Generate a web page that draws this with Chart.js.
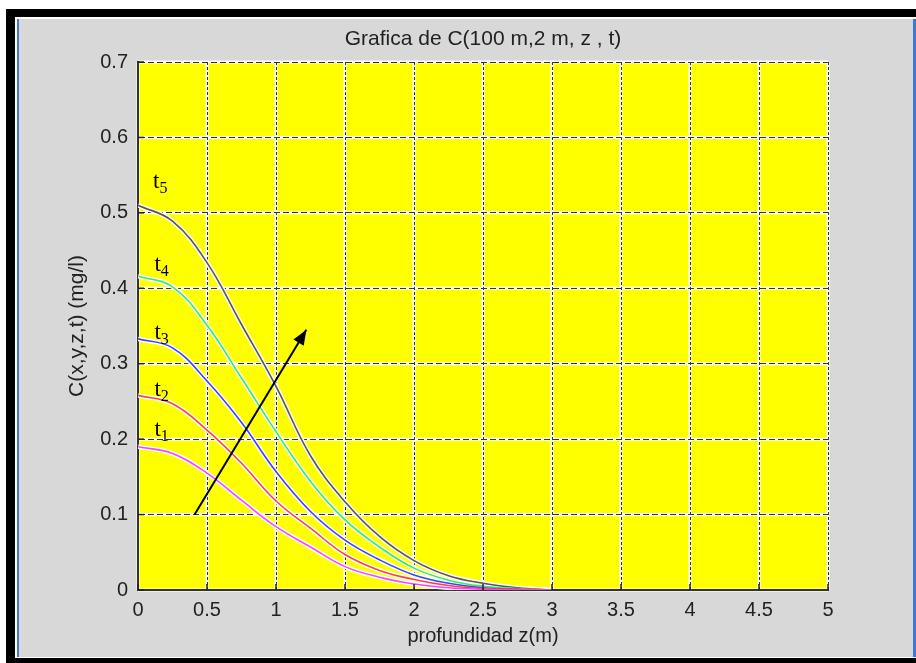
<!DOCTYPE html>
<html>
<head>
<meta charset="utf-8">
<script src="https://cdn.jsdelivr.net/npm/chart.js@4"></script>
<style>
  body { margin: 0; background: #fff; }
  #frame { position: absolute; left: 6px; top: 9px; width: 910px; height: 654px; background: #000; }
  #edge { position: absolute; left: 15px; top: 17px; width: 901px; height: 641px; background: #fff; }
  #panel { position: absolute; left: 17px; top: 19px; width: 894px; height: 638px; background: #d8d8d8;
           border-left: 2px solid #3c78d8; border-right: 4px solid #3c78d8; }
  #chart { position: absolute; left: 0; top: 0; }
</style>
</head>
<body>
<div id="frame"></div>
<div id="edge"></div>
<div id="panel"></div>
<canvas id="chart" width="916" height="663"></canvas>
<script>
// depth z (m)
const zVals = [0, 0.25, 0.5, 0.75, 1, 1.25, 1.5, 1.75, 2, 2.25, 2.5, 2.75, 3];
// C(100 m, 2 m, z, t) in mg/l for five times
const cT1 = [0.190, 0.181, 0.155, 0.119, 0.084, 0.057, 0.031, 0.017, 0.008, 0.003, 0.001, 0, 0];
const cT2 = [0.258, 0.247, 0.212, 0.168, 0.118, 0.082, 0.047, 0.026, 0.014, 0.006, 0.002, 0.001, 0];
const cT3 = [0.333, 0.321, 0.277, 0.222, 0.157, 0.104, 0.066, 0.040, 0.020, 0.009, 0.003, 0.001, 0];
const cT4 = [0.416, 0.402, 0.351, 0.281, 0.210, 0.144, 0.093, 0.057, 0.029, 0.013, 0.005, 0.002, 0];
const cT5 = [0.510, 0.489, 0.434, 0.352, 0.270, 0.178, 0.117, 0.071, 0.039, 0.019, 0.009, 0.003, 0];

const seriesNames = ["1", "2", "3", "4", "5"];
const seriesColors = ["#ff40ff", "#ff4040", "#4040ff", "#33ee55", "#555555"];
// label anchors (z, C)
const labelZ = [0.17, 0.17, 0.17, 0.17, 0.16];
const labelC = [0.212, 0.265, 0.341, 0.431, 0.541];

// arrow from (z, C) to (z, C)
const arrowZ = [0.41, 1.22];
const arrowC = [0.1, 0.345];

const allC = [cT1, cT2, cT3, cT4, cT5];
const pts = (xs, ys) => xs.map((x, i) => ({ x, y: ys[i] }));

const datasets = [];
allC.forEach((c, i) => {
  datasets.push({ data: pts(zVals, c), borderColor: seriesColors[i], borderWidth: 1.6, order: 1 });
  datasets.push({ data: pts(zVals, c), borderColor: "#ffffff", borderWidth: 4.5, order: 2 });
});
datasets.push({ data: pts(arrowZ, arrowC), borderColor: "#000", borderWidth: 2, order: 0, arrow: true, tension: 0 });

const gridUnderlay = {
  id: "gridUnderlay",
  beforeDraw(chart) {
    const { ctx, chartArea: a, scales: { x, y } } = chart;
    ctx.save();
    ctx.fillStyle = "#ffff00";
    ctx.fillRect(a.left, a.top, a.right - a.left, a.bottom - a.top);
    ctx.strokeStyle = "#ffffff";
    ctx.lineWidth = 3;
    x.ticks.forEach((t) => {
      const px = x.getPixelForValue(t.value);
      ctx.beginPath(); ctx.moveTo(px, a.top); ctx.lineTo(px, a.bottom); ctx.stroke();
    });
    y.ticks.forEach((t) => {
      const py = y.getPixelForValue(t.value);
      ctx.beginPath(); ctx.moveTo(a.left, py); ctx.lineTo(a.right, py); ctx.stroke();
    });
    ctx.restore();
  },
};

const marks = {
  id: "marks",
  afterDatasetsDraw(chart) {
    const { ctx, chartArea: a, scales: { x, y } } = chart;
    ctx.save();
    // arrow head
    const idx = chart.data.datasets.findIndex((d) => d.arrow);
    const m = chart.getDatasetMeta(idx).data;
    const p0 = m[0], p1 = m[1];
    const ang = Math.atan2(p1.y - p0.y, p1.x - p0.x);
    const len = 15, hw = 6;
    ctx.fillStyle = "#000";
    ctx.beginPath();
    ctx.moveTo(p1.x, p1.y);
    ctx.lineTo(p1.x - len * Math.cos(ang) + hw * Math.sin(ang), p1.y - len * Math.sin(ang) - hw * Math.cos(ang));
    ctx.lineTo(p1.x - len * Math.cos(ang) - hw * Math.sin(ang), p1.y - len * Math.sin(ang) + hw * Math.cos(ang));
    ctx.closePath();
    ctx.fill();

    // t labels
    ctx.textBaseline = "alphabetic";
    ctx.textAlign = "left";
    seriesNames.forEach((n, i) => {
      const px = x.getPixelForValue(labelZ[i]);
      const py = y.getPixelForValue(labelC[i]);
      ctx.font = '23px "Liberation Serif"';
      ctx.fillText("t", px - 7, py + 6);
      const w = ctx.measureText("t").width;
      ctx.font = '16px "Liberation Serif"';
      ctx.fillText(n, px - 7 + w, py + 11);
    });

    // inner tick marks
    ctx.strokeStyle = "#222";
    ctx.lineWidth = 1.5;
    x.ticks.forEach((t) => {
      const px = x.getPixelForValue(t.value);
      ctx.beginPath(); ctx.moveTo(px, a.bottom); ctx.lineTo(px, a.bottom - 6); ctx.stroke();
    });
    y.ticks.forEach((t) => {
      const py = y.getPixelForValue(t.value);
      ctx.beginPath(); ctx.moveTo(a.left, py); ctx.lineTo(a.left + 6, py); ctx.stroke();
    });
    ctx.restore();
  },
};

const tickFont = { family: "Arial, 'Liberation Sans'", size: 20 };
const fmt = (v) => String(Number(v.toFixed(2)));

new Chart(document.getElementById("chart"), {
  type: "line",
  data: { datasets },
  plugins: [gridUnderlay, marks],
  options: {
    responsive: false,
    animation: false,
    layout: { padding: { left: 0, right: 88, top: 0, bottom: 0 } },
    elements: {
      point: { radius: 0 },
      line: { tension: 0.4 },
    },
    plugins: {
      legend: { display: false },
      tooltip: { enabled: false },
      title: {
        display: true,
        fullSize: false,
        text: "Grafica de C(100 m,2 m, z , t)",
        color: "#222",
        font: { family: "Arial, 'Liberation Sans'", size: 21, weight: "normal", lineHeight: 1.2 },
        padding: { top: 27, bottom: 9.8 },
      },
    },
    scales: {
      x: {
        type: "linear",
        min: 0,
        max: 5,
        afterFit: (s) => { s.height = 73; },
        ticks: { stepSize: 0.5, color: "#222", font: tickFont, padding: 8, maxRotation: 0, callback: fmt },
        grid: { color: "#333", lineWidth: 1, drawTicks: false },
        border: { display: true, color: "#333", width: 2, dash: [3, 2] },
        title: {
          display: true,
          text: "profundidad z(m)",
          color: "#222",
          font: { family: "Arial, 'Liberation Sans'", size: 20, lineHeight: 1.2 },
          padding: { top: 0, bottom: 15 },
        },
      },
      y: {
        min: 0,
        max: 0.7,
        afterFit: (s) => { s.width = 138; },
        ticks: { stepSize: 0.1, color: "#222", font: tickFont, padding: 10, callback: fmt },
        grid: { color: "#333", lineWidth: 1, drawTicks: false },
        border: { display: true, color: "#333", width: 2, dash: [6, 3] },
        title: {
          display: true,
          text: "C(x,y,z,t) (mg/l)",
          color: "#222",
          font: { family: "Arial, 'Liberation Sans'", size: 21, lineHeight: 1.2 },
          padding: { top: 64.4, bottom: 0 },
        },
      },
    },
  },
});
</script>
</body>
</html>
